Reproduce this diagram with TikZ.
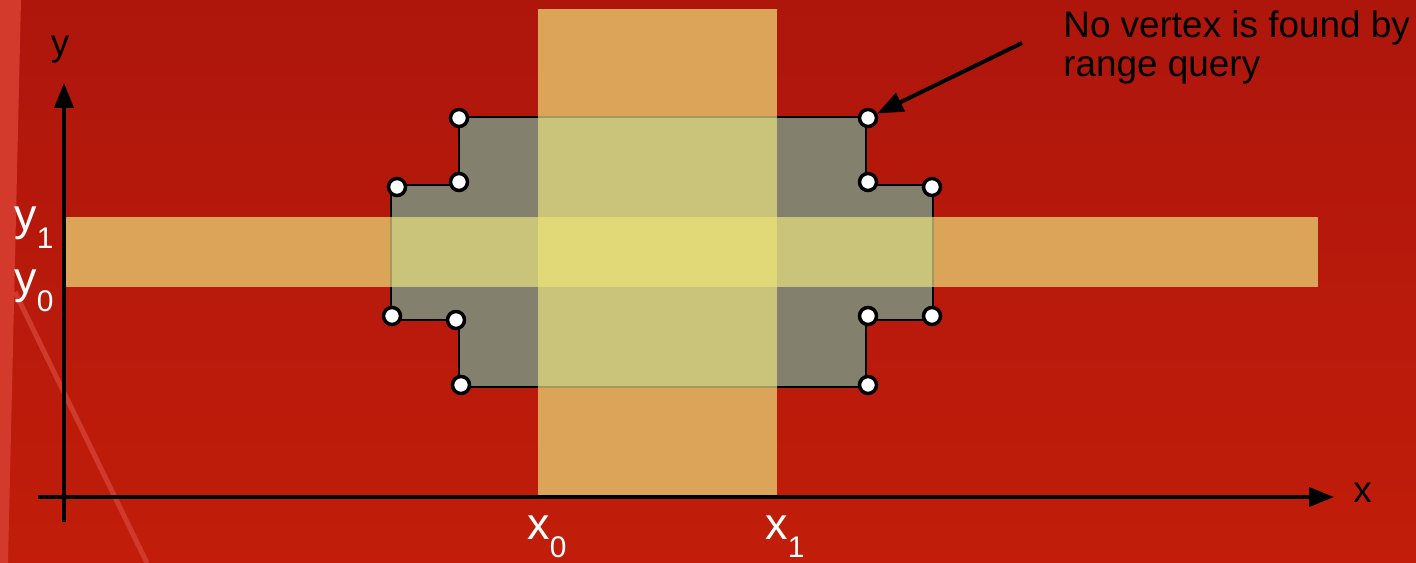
\documentclass[tikz,border=0pt]{standalone}
\usepackage{fontspec}
\setmainfont{Liberation Sans}
\usetikzlibrary{arrows.meta}
\definecolor{bgtop}{HTML}{AE160C}
\definecolor{bgbot}{HTML}{C11D0A}
\definecolor{stripred}{HTML}{D33A2B}
\definecolor{diagred}{HTML}{D03A2C}
\definecolor{bandorange}{HTML}{DCA458}
\definecolor{bandgray}{HTML}{C9C47A}
\definecolor{bandcenter}{HTML}{E1D877}
\definecolor{polygray}{HTML}{83806E}
\definecolor{olive}{HTML}{A09B5C}
\newcommand{\sublabel}[2]{#1\raisebox{-10pt}{\fontsize{17}{17}\selectfont #2}}
\begin{document}
\begin{tikzpicture}[x=0.02cm,y=-0.02cm,
  axisline/.style={line width=0.08cm,-{Triangle[length=0.5cm,width=0.38cm]}},
  vertexdot/.style={circle,draw=black,fill=white,line width=0.07cm,inner sep=0pt,minimum size=0.34cm},
  sublab/.style={text=white,inner sep=0pt,font=\fontsize{25.5}{25.5}\selectfont},
  axislab/.style={text=black,inner sep=0pt,font=\fontsize{21}{21}\selectfont},
  notetext/.style={text=black,inner sep=0pt,font=\fontsize{21}{21}\selectfont},
  outline/.style={line width=0.054cm,line join=miter}]
\useasboundingbox (0,0) rectangle (1416,563);
% background
\shade[top color=bgtop,bottom color=bgbot] (0,0) rectangle (1416,563);
\fill[stripred] (0,0) -- (21,0) -- (8,563) -- (0,563) -- cycle;
\draw[diagred,line width=0.1cm] (15,292) -- (147,563);
% orange bands
\fill[bandorange] (538,9) rectangle (777,497);
\fill[bandorange] (65,217) rectangle (1318,287);
% polygon
\def\polypath{(459,117) -- (866,117) -- (866,185) -- (933,185) -- (933,320) -- (866,320) -- (866,387) -- (459,387) -- (459,320) -- (391,320) -- (391,185) -- (459,185) -- cycle}
\fill[polygray] \polypath;
\draw[outline,black] \polypath;
\begin{scope}
  \clip \polypath;
  \fill[bandgray] (538,9) rectangle (777,497);
  \fill[bandgray] (65,217) rectangle (1318,287);
  \fill[bandcenter] (538,217) rectangle (777,287);
\end{scope}
\begin{scope}
  \clip (538,9) rectangle (777,497) (65,217) rectangle (1318,287);
  \draw[outline,olive] \polypath;
\end{scope}
% axes
\coordinate (yaxisbot) at (64,522);
\coordinate (yaxistop) at (64,83);
\coordinate (xaxisleft) at (38,497);
\coordinate (xaxisright) at (1334,497);
\draw[axisline] (yaxisbot) -- (yaxistop);
\draw[axisline] (xaxisleft) -- (xaxisright);
% vertices
\node[vertexdot] (v1) at (459,118) {};
\node[vertexdot] (v2) at (868,118) {};
\node[vertexdot] (v3) at (868,182) {};
\node[vertexdot] (v4) at (932,187) {};
\node[vertexdot] (v5) at (932,316) {};
\node[vertexdot] (v6) at (868,316) {};
\node[vertexdot] (v7) at (868,385) {};
\node[vertexdot] (v8) at (461,385) {};
\node[vertexdot] (v9) at (456,320) {};
\node[vertexdot] (v10) at (392,316) {};
\node[vertexdot] (v11) at (397,187) {};
\node[vertexdot] (v12) at (459,182) {};
% labels
\node[axislab,anchor=base] (ylab) at (60,56) {y};
\node[axislab,anchor=base west] (xlab) at (1353,502) {x};
\node[sublab,anchor=base west] (y1lab) at (14,231) {\sublabel{y}{1}};
\node[sublab,anchor=base west] (y0lab) at (14,294) {\sublabel{y}{0}};
\node[sublab,anchor=base west] (x0lab) at (527,540) {\sublabel{x}{0}};
\node[sublab,anchor=base west] (x1lab) at (765,540) {\sublabel{x}{1}};
% annotation
\node[notetext,anchor=base west] (note1) at (1063,38) {No vertex is found by};
\node[notetext,anchor=base west] (note2) at (1063,77) {range query};
\coordinate (notearrow) at (1022,43);
\draw[line width=0.08cm,-{Triangle[length=0.52cm,width=0.4cm]}] (notearrow) -- (v2);
\end{tikzpicture}
\end{document}
